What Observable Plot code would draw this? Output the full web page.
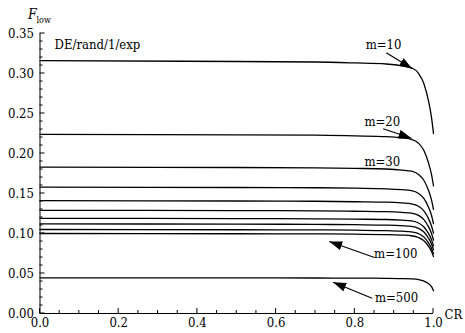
<!DOCTYPE html>
<html>
<head>
<meta charset="utf-8">
<script src="https://cdn.jsdelivr.net/npm/d3@7"></script>
<script src="https://cdn.jsdelivr.net/npm/@observablehq/plot@0.6"></script>
<style>
  html, body { margin: 0; padding: 0; background: #fff; }
  #chart svg { display: block; }
</style>
</head>
<body>
<div id="chart"></div>
<script>
// Crossover rate samples shared by every curve
const crValues = [0, 0.5, 0.7, 0.8, 0.88, 0.92, 0.944, 0.962, 0.975, 0.987, 0.995, 1.0];

// Lower bound of the scale factor F for each population size m
const populationSizes = [10, 20, 30, 40, 50, 60, 70, 80, 90, 100, 500];
const fLowM10  = [0.316, 0.315, 0.3144, 0.3132, 0.3119, 0.3097, 0.3072, 0.3002, 0.2882, 0.2664, 0.2449, 0.225];
const fLowM20  = [0.224, 0.2233, 0.2229, 0.2220, 0.2211, 0.2195, 0.2177, 0.2128, 0.2043, 0.1888, 0.1736, 0.1595];
const fLowM30  = [0.183, 0.1825, 0.1821, 0.1814, 0.1806, 0.1793, 0.1779, 0.1739, 0.1669, 0.1543, 0.1418, 0.1303];
const fLowM40  = [0.158, 0.1575, 0.1572, 0.1566, 0.1559, 0.1548, 0.1536, 0.1501, 0.1441, 0.1332, 0.1225, 0.1125];
const fLowM50  = [0.141, 0.1406, 0.1403, 0.1397, 0.1392, 0.1382, 0.1371, 0.1340, 0.1286, 0.1189, 0.1093, 0.1004];
const fLowM60  = [0.129, 0.1286, 0.1284, 0.1278, 0.1273, 0.1264, 0.1254, 0.1226, 0.1176, 0.1087, 0.1000, 0.0918];
const fLowM70  = [0.119, 0.1186, 0.1184, 0.1179, 0.1175, 0.1166, 0.1157, 0.1131, 0.1085, 0.1003, 0.0922, 0.0847];
const fLowM80  = [0.112, 0.1117, 0.1114, 0.1110, 0.1105, 0.1098, 0.1089, 0.1064, 0.1021, 0.0944, 0.0868, 0.0797];
const fLowM90  = [0.105, 0.1047, 0.1045, 0.1041, 0.1036, 0.1029, 0.1021, 0.0998, 0.0958, 0.0885, 0.0814, 0.0748];
const fLowM100 = [0.100, 0.0997, 0.0995, 0.0991, 0.0987, 0.0980, 0.0972, 0.0950, 0.0912, 0.0843, 0.0775, 0.0712];
const fLowM500 = [0.0446, 0.0445, 0.0444, 0.0442, 0.0440, 0.0437, 0.0433, 0.0424, 0.0407, 0.0375, 0.0335, 0.0285];
const fLowSeries = [fLowM10, fLowM20, fLowM30, fLowM40, fLowM50, fLowM60, fLowM70, fLowM80, fLowM90, fLowM100, fLowM500];

// Axis ticks
const xMajorTicks = [0, 0.2, 0.4, 0.6, 0.8, 1.0];
const xMinorTicks = d3.range(0, 21).map(i => i * 0.05);
const yMajorTicks = [0, 0.05, 0.10, 0.15, 0.20, 0.25, 0.30, 0.35];
const yMinorTicks = d3.range(0, 36).map(i => i * 0.01);

// Curve labels and the arrows pointing at their curves (data coordinates)
const labelText = ["DE/rand/1/exp", "m=10", "m=20", "m=30", "m=100", "m=500"];
const labelCR   = [0.146, 0.873, 0.870, 0.870, 0.904, 0.906];
const labelF    = [0.336, 0.336, 0.239, 0.190, 0.074, 0.020];
const labelAnchor = ["start", "middle", "middle", "middle", "middle", "middle"];

const arrowFromCR = [0.880, 0.872, 0.850, 0.844];
const arrowFromF  = [0.326, 0.231, 0.070, 0.019];
const arrowToCR   = [0.946, 0.944, 0.735, 0.745];
const arrowToF    = [0.306, 0.219, 0.090, 0.039];

const rows = fLowSeries.flatMap((vals, i) =>
  vals.map((f, j) => ({m: populationSizes[i], cr: crValues[j], f}))
);
const labels = labelText.map((t, i) => ({text: t, cr: labelCR[i], f: labelF[i], anchor: labelAnchor[i]}));
const arrows = arrowFromCR.map((_, i) => ({x1: arrowFromCR[i], y1: arrowFromF[i], x2: arrowToCR[i], y2: arrowToF[i]}));

// Solid triangular arrowhead
function solidHead(color, context) {
  const doc = (context && context.document) || document;
  const ns = "http://www.w3.org/2000/svg";
  const marker = doc.createElementNS(ns, "marker");
  marker.setAttribute("viewBox", "-13 -4.5 13 9");
  marker.setAttribute("markerWidth", 13);
  marker.setAttribute("markerHeight", 9);
  marker.setAttribute("markerUnits", "userSpaceOnUse");
  marker.setAttribute("refX", 0);
  marker.setAttribute("refY", 0);
  marker.setAttribute("orient", "auto");
  const path = doc.createElementNS(ns, "path");
  path.setAttribute("d", "M-13,-4.5L0,0L-13,4.5Z");
  path.setAttribute("fill", color);
  path.setAttribute("stroke", "none");
  marker.appendChild(path);
  return marker;
}

// Inward-pointing tick marks on the bottom and left edges, placed by the x and y scales
function innerTicks(index, scales, values, dims) {
  const {x, y} = scales;
  const bottom = dims.height - dims.marginBottom;
  const left = dims.marginLeft;
  const g = d3.create("svg:g").attr("stroke", "#000").attr("stroke-width", 1).attr("fill", "none");
  const isMajorX = v => xMajorTicks.some(t => Math.abs(t - v) < 1e-9);
  const isMajorY = v => yMajorTicks.some(t => Math.abs(t - v) < 1e-9);
  for (const v of xMinorTicks) {
    const px = x(v);
    g.append("line").attr("x1", px).attr("x2", px).attr("y1", bottom).attr("y2", bottom - (isMajorX(v) ? 5 : 3));
  }
  for (const v of yMinorTicks) {
    const py = y(v);
    g.append("line").attr("y1", py).attr("y2", py).attr("x1", left).attr("x2", left + (isMajorY(v) ? 5 : 3));
  }
  return g.node();
}

const font = "'DejaVu Serif Condensed', 'DejaVu Serif', serif";
const W = 465, H = 333;
const M = {left: 39.5, right: 32, top: 33, bottom: 20};

const chart = Plot.plot({
  width: W,
  height: H,
  marginLeft: M.left,
  marginRight: M.right,
  marginTop: M.top,
  marginBottom: M.bottom,
  style: {fontFamily: font, fontSize: "13px", color: "#000", background: "#fff"},
  x: {domain: [0, 1], axis: null},
  y: {domain: [0, 0.35], axis: null},
  marks: [
    // tick labels
    Plot.axisX(xMajorTicks, {tickSize: 0, tickPadding: 4, tickFormat: d3.format(".1f"), fontSize: 13, fontFamily: font, label: null}),
    Plot.axisY(yMajorTicks, {tickSize: 0, tickPadding: 6, tickFormat: d3.format(".2f"), fontSize: 13, fontFamily: font, label: null}),
    innerTicks,
    Plot.ruleX([0], {stroke: "#000"}),
    Plot.ruleY([0], {stroke: "#000"}),
    // curves
    Plot.line(rows, {x: "cr", y: "f", z: "m", stroke: "#000", strokeWidth: 1.3, curve: "monotone-x"}),
    // annotations
    Plot.text(labels, {x: "cr", y: "f", text: "text", textAnchor: "anchor", lineAnchor: "middle", fontSize: 13, fontFamily: font, fill: "#000"}),
    Plot.link(arrows, {x1: "x1", y1: "y1", x2: "x2", y2: "y2", stroke: "#000", strokeWidth: 1.2, markerEnd: solidHead}),
    // axis titles
    Plot.text(["F"], {frameAnchor: "top-left", dx: -12, dy: -15, textAnchor: "start", lineAnchor: "bottom", fontSize: 14, fontStyle: "italic", fontFamily: font, fill: "#000"}),
    Plot.text(["low"], {frameAnchor: "top-left", dx: -3.5, dy: -11, textAnchor: "start", lineAnchor: "bottom", fontSize: 9, fontFamily: font, fill: "#000"}),
    Plot.text(["CR"], {frameAnchor: "bottom-right", dx: 11, dy: 1, textAnchor: "start", lineAnchor: "middle", fontSize: 13, fontFamily: font, fill: "#000"})
  ]
});

document.getElementById("chart").appendChild(chart);
</script>
</body>
</html>
